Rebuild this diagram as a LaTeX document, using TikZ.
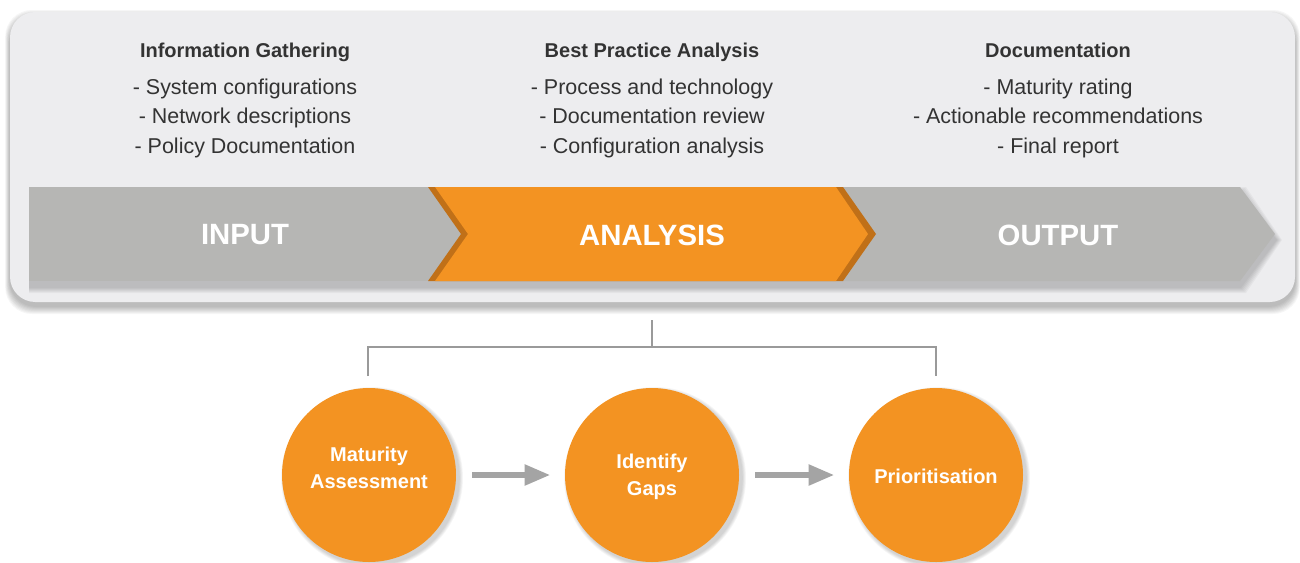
\documentclass[tikz,border=0pt]{standalone}
\usepackage{fontspec}
\setmainfont{Liberation Sans}
\usetikzlibrary{arrows.meta}
\definecolor{orangeA}{HTML}{F39322}
\definecolor{orangeD}{HTML}{C07018}
\definecolor{bandgray}{HTML}{B6B6B4}
\definecolor{panelgray}{HTML}{EDEDEF}
\definecolor{txt}{HTML}{333333}
\definecolor{conngray}{HTML}{9A9A9A}
\tikzset{
  head/.style={font=\fontsize{15}{17}\selectfont\bfseries, text=txt, anchor=center, text height=11pt, text depth=3.5pt},
  item/.style={font=\fontsize{16.1}{18}\selectfont, text=txt, anchor=center, text height=11.5pt, text depth=3.5pt},
  bandlabel/.style={font=\fontsize{22}{25}\selectfont\bfseries, text=white},
  stage/.style={circle, fill=orangeA, minimum size=130.5pt, inner sep=0pt},
  stagetext/.style={align=center, text=white, font=\fontsize{15}{20.2}\selectfont\bfseries},
  softshade/.style={fill=black, opacity=0.035},
  conn/.style={draw=conngray, line width=1.6pt},
  flow/.style={draw=conngray!90, line width=3.8pt, -{Triangle[length=19pt,width=15pt]}, shorten <=12pt, shorten >=11pt}
}
\begin{document}
\begin{tikzpicture}[x=0.75pt,y=-0.75pt]
\useasboundingbox (0,0) rectangle (1300,562);
\clip (0,0) rectangle (1300,562);
\fill[white] (0,0) rectangle (1300,562);
% panel shadow
\foreach \k in {1,...,8}{
  \fill[softshade, rounded corners=20pt] (10-0.6*\k,12-\k+6) rectangle (1295+0.6*\k,302+\k+4);
}
\fill[panelgray, rounded corners=19pt] (10,12) rectangle (1295,302);
% band shadow
\foreach \k in {1,...,6}{
  \fill[softshade] (29,187-\k+6) -- (1240+\k,187-\k+6) -- (1276+\k,234+6) -- (1240+\k,281+\k+6) -- (29,281+\k+6) -- cycle;
}
% band
\fill[bandgray] (29,187) -- (470,187) -- (470,281) -- (29,281) -- cycle;
\fill[bandgray] (843,187) -- (1240,187) -- (1275,234) -- (1240,281) -- (843,281) -- cycle;
\fill[orangeD] (428,187) -- (843,187) -- (876,234) -- (843,281) -- (428,281) -- (461,234) -- cycle;
\fill[orangeA] (435,187) -- (836,187) -- (868,234) -- (836,281) -- (435,281) -- (468,234) -- cycle;
% band labels
\node[bandlabel] (input) at (245,235) {INPUT};
\node[bandlabel] (analysis) at (652,235) {ANALYSIS};
\node[bandlabel] (output) at (1058,235) {OUTPUT};
% column texts
\node[head] (h1) at (245,52) {Information Gathering};
\node[item] (i11) at (245,89) {- System configurations};
\node[item] (i12) at (245,118.5) {- Network descriptions};
\node[item] (i13) at (245,148) {- Policy Documentation};
\node[head] (h2) at (652,52) {Best Practice Analysis};
\node[item] (i21) at (652,89) {- Process and technology};
\node[item] (i22) at (652,118.5) {- Documentation review};
\node[item] (i23) at (652,148) {- Configuration analysis};
\node[head] (h3) at (1058,52) {Documentation};
\node[item] (i31) at (1058,89) {- Maturity rating};
\node[item] (i32) at (1058,118.5) {- Actionable recommendations};
\node[item] (i33) at (1058,148) {- Final report};
% circle shadows
\foreach \cx in {369,652,936}{
  \foreach \k in {1,...,5}{
    \fill[softshade] (\cx+3,478) circle[radius=65.25pt+0.6*\k pt];
  }
}
% circles
\node[stage] (c1) at (369,475) {};
\node[stage] (c2) at (652,475) {};
\node[stage] (c3) at (936,475) {};
\node[stagetext] (t1) at (369,468) {Maturity\\Assessment};
\node[stagetext] (t2) at (652,477) {Identify\\Gaps};
\node[stagetext] (t3) at (936,476) {Prioritisation};
% bracket
\coordinate (brtop) at (652,320);
\coordinate (brmid) at (652,347);
\coordinate (brl) at (368,376);
\coordinate (brr) at (936,376);
\draw[conn] (brtop) -- (brmid);
\draw[conn] (brl) |- (brmid) -| (brr);
% flow arrows
\draw[flow] (c1.east) -- (c2.west);
\draw[flow] (c2.east) -- (c3.west);
\end{tikzpicture}
\end{document}
